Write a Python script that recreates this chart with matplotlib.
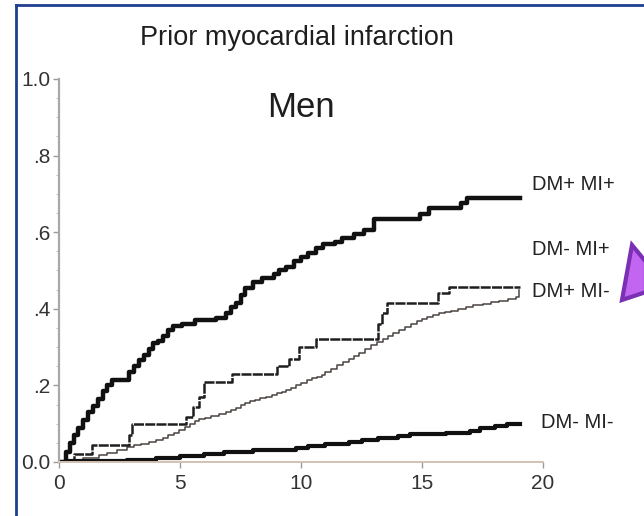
import numpy as np
import matplotlib as mpl
mpl.use('Agg')
import matplotlib.pyplot as plt
from matplotlib.lines import Line2D
from matplotlib.patches import Polygon

plt.rcParams['font.family'] = ['Liberation Sans', 'DejaVu Sans']

# years of follow-up / cumulative incidence (step curves)
dmp_mip_t = [0, 0.3, 0.45, 0.6, 0.8, 1.0, 1.2, 1.4, 1.6, 1.8, 2.0, 2.2, 2.9, 3.1, 3.3, 3.5,
             3.7, 3.9, 4.1, 4.3, 4.5, 4.7, 5.1, 5.6, 6.5, 6.9, 7.1, 7.3, 7.5, 7.7, 8.0, 8.4,
             8.9, 9.1, 9.4, 9.7, 10.0, 10.3, 10.6, 10.9, 11.4, 11.7, 12.2, 12.6, 13.0, 14.9,
             15.3, 16.6, 16.85, 19.05]
dmp_mip_v = [0, 0.025, 0.05, 0.07, 0.09, 0.11, 0.13, 0.145, 0.165, 0.185, 0.2, 0.215, 0.235,
             0.25, 0.265, 0.28, 0.295, 0.31, 0.315, 0.33, 0.345, 0.355, 0.36, 0.37, 0.375,
             0.39, 0.405, 0.415, 0.435, 0.455, 0.47, 0.48, 0.49, 0.5, 0.51, 0.525, 0.535,
             0.545, 0.56, 0.57, 0.575, 0.585, 0.595, 0.605, 0.635, 0.648, 0.662, 0.675,
             0.69, 0.69]

dmp_mim_t = [0, 0.6, 1.35, 2.9, 3.0, 5.25, 5.55, 5.8, 6.0, 7.15, 9.0, 9.5, 9.9, 10.6, 13.2,
             13.35, 13.55, 15.65, 16.1, 19.05]
dmp_mim_v = [0, 0.022, 0.045, 0.07, 0.1, 0.117, 0.143, 0.17, 0.21, 0.23, 0.25, 0.27, 0.3,
             0.32, 0.36, 0.39, 0.415, 0.44, 0.457, 0.457]

dmm_mip_t = [0, 0.5, 1.0, 1.65, 2.0, 2.4, 2.8, 3.1, 3.4, 3.7, 4.0, 4.3, 4.5, 4.75, 4.95, 5.2,
             5.4, 5.6, 5.8, 6.05, 6.3, 6.6, 6.9, 7.1, 7.3, 7.5, 7.7, 7.9, 8.1, 8.3, 8.55,
             8.8, 9.0, 9.2, 9.4, 9.6, 9.8, 10.0, 10.25, 10.45, 10.65, 10.85, 11.0, 11.25,
             11.5, 11.75, 12.0, 12.2, 12.4, 12.65, 12.9, 13.15, 13.4, 13.6, 13.8, 14.05,
             14.3, 14.55, 14.8, 15.0, 15.2, 15.45, 15.7, 15.95, 16.2, 16.5, 16.8, 17.1,
             17.5, 17.85, 18.2, 18.55, 18.9, 19.0]
dmm_mip_v = [0, 0.005, 0.01, 0.018, 0.024, 0.03, 0.04, 0.044, 0.048, 0.052, 0.057, 0.063,
             0.07, 0.076, 0.083, 0.092, 0.1, 0.106, 0.112, 0.116, 0.12, 0.125, 0.13, 0.136,
             0.142, 0.148, 0.153, 0.158, 0.162, 0.166, 0.17, 0.175, 0.18, 0.184, 0.187,
             0.193, 0.2, 0.206, 0.213, 0.218, 0.222, 0.228, 0.235, 0.243, 0.252, 0.261,
             0.27, 0.277, 0.285, 0.295, 0.305, 0.313, 0.322, 0.33, 0.337, 0.345, 0.352,
             0.36, 0.368, 0.373, 0.378, 0.383, 0.388, 0.392, 0.395, 0.4, 0.405, 0.409,
             0.413, 0.417, 0.42, 0.425, 0.43, 0.45]

dmm_mim_t = [0, 0.3, 2.8, 4.0, 5.0, 6.0, 6.8, 8.0, 9.0, 9.8, 10.3, 11.0, 12.0, 12.5, 13.2,
             14.0, 14.5, 16.0, 17.0, 17.4, 18.0, 18.5, 19.05]
dmm_mim_v = [0, 0.003, 0.005, 0.01, 0.015, 0.02, 0.027, 0.03, 0.032, 0.037, 0.042, 0.047,
             0.052, 0.058, 0.062, 0.068, 0.073, 0.076, 0.08, 0.088, 0.095, 0.1, 0.1]

curve_labels = ['DM+ MI+', 'DM- MI+', 'DM+ MI-', 'DM- MI-']
label_x = [19.55, 19.55, 19.55, 19.9]
label_y = [0.725, 0.556, 0.444, 0.104]

x_ticks = [0, 5, 10, 15, 20]
y_ticks = [0.0, 0.2, 0.4, 0.6, 0.8, 1.0]
y_ticklabels = ['0.0', '.2', '.4', '.6', '.8', '1.0']

fig = plt.figure(figsize=(6.44, 5.16), dpi=100)
ax = fig.add_axes([0.0916, 0.1047, 0.7516, 0.7422])

# 画曲线
ax.step(dmm_mip_t, dmm_mip_v, where='post', color='#4a4440', lw=1.1)
ax.step(dmp_mim_t, dmp_mim_v, where='post', color='#1e1e1e', lw=1.8, linestyle=(0, (4, 0.5)))
ax.step(dmm_mim_t, dmm_mim_v, where='post', color='#111111', lw=3.0)
ax.step(dmp_mip_t, dmp_mip_v, where='post', color='#111111', lw=3.2)

for lab, lx, ly in zip(curve_labels, label_x, label_y):
    ax.text(lx, ly, lab, fontsize=14.5, color='#222222', ha='left', va='center', clip_on=False)

ax.text(10.0, 0.925, 'Men', fontsize=25, color='#1e1e1e', ha='center', va='center')
fig.text(0.461, 0.926, 'Prior myocardial infarction', fontsize=19.5, color='#1e1e1e',
         ha='center', va='center')

ax.set_xlim(0, 20)
ax.set_ylim(0, 1.0)
ax.set_xticks(x_ticks)
ax.set_yticks(y_ticks)
ax.set_yticklabels(y_ticklabels)
ax.set_yticks(np.arange(0, 1.0, 0.05), minor=True)
ax.tick_params(axis='both', which='major', labelsize=15, colors='#9a9a9a',
               labelcolor='#333333', length=4, width=1)
ax.tick_params(axis='x', pad=5)
ax.tick_params(axis='y', pad=2)
ax.tick_params(axis='y', which='minor', length=2, colors='#b0b0b0')

for s in ['top', 'right']:
    ax.spines[s].set_visible(False)
ax.spines['left'].set_color('#a8a8a8')
ax.spines['left'].set_linewidth(1.6)
ax.spines['bottom'].set_color('#d2c2b4')
ax.spines['bottom'].set_linewidth(1.4)

# 蓝色边框（只有上边和左边）
fig.add_artist(Line2D([16 / 644, 1.0], [1 - 5 / 516, 1 - 5 / 516], color='#1f3f8f', lw=2))
fig.add_artist(Line2D([16 / 644, 16 / 644], [0, 1 - 5 / 516], color='#1f3f8f', lw=2))

# 紫色箭头（右边被裁掉）
arrow_px = [(632, 245), (622, 300), (646, 292), (646, 262)]
arrow = Polygon([(px / 644, 1 - py / 516) for px, py in arrow_px], closed=True,
                transform=fig.transFigure, facecolor='#c266f2', edgecolor='#7a2fb5', lw=3)
fig.add_artist(arrow)

fig.savefig('out.png', dpi=100)
